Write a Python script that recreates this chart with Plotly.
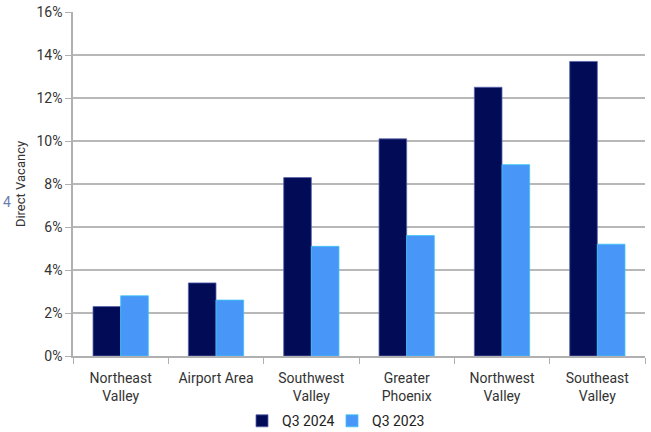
import plotly.graph_objects as go

categories = ["Northeast<br>Valley", "Airport Area", "Southwest<br>Valley", "Greater<br>Phoenix", "Northwest<br>Valley", "Southeast<br>Valley"]
q3_2024 = [2.3, 3.4, 8.3, 10.1, 12.5, 13.7]
q3_2023 = [2.8, 2.6, 5.1, 5.6, 8.9, 5.2]
y_ticks = [0, 2, 4, 6, 8, 10, 12, 14, 16]
y_tick_labels = [f"{v}%" for v in y_ticks]

fig = go.Figure()
fig.add_trace(go.Bar(x=categories, y=q3_2024, name="Q3 2024", legend="legend",
                     marker=dict(color="#020B56", line=dict(color="#5a66b0", width=0.8))))
fig.add_trace(go.Bar(x=categories, y=q3_2023, name="Q3 2023", legend="legend2",
                     marker=dict(color="#4896F8", line=dict(color="#39C6F4", width=0.8))))

leg_common = dict(orientation="h", xanchor="left", y=0.025, yanchor="middle", yref="container",
                  font=dict(size=14, color="#222222"), itemwidth=30, bgcolor="rgba(0,0,0,0)")
fig.update_layout(
    width=651, height=432,
    margin=dict(l=73, r=6, t=12, b=76, autoexpand=False),
    paper_bgcolor="white", plot_bgcolor="white",
    barmode="group", bargap=0.42, bargroupgap=0,
    font=dict(family="Roboto", size=14, color="#333333"),
    legend=dict(x=(242 - 73) / 572, **leg_common),
    legend2=dict(x=(332 - 73) / 572, **leg_common),
    showlegend=True,
)
fig.update_xaxes(showline=True, linecolor="#b0b0b0", linewidth=1.5,
                 ticks="outside", tickson="boundaries", ticklen=6, tickcolor="#b0b0b0",
                 ticklabelstandoff=8,
                 tickfont=dict(size=14, color="#333333"), showgrid=False)
fig.update_yaxes(range=[0, 16], tickvals=y_ticks, ticktext=y_tick_labels,
                 showline=True, linecolor="#b0b0b0", linewidth=1.5,
                 ticks="outside", ticklen=6, tickcolor="#b0b0b0",
                 gridcolor="#b8b8b8", gridwidth=1.5, zeroline=False,
                 tickfont=dict(size=14, color="#333333"),
                 title=dict(text="Direct Vacancy", font=dict(size=13, color="#333333"), standoff=8))
fig.add_annotation(text="4", x=(2 - 73) / 572, y=(356 - 202) / 344, xref="paper", yref="paper", showarrow=False,
                   xanchor="left", borderpad=0, font=dict(size=14, color="#6a7fb0"))

fig.write_html("out.html")
